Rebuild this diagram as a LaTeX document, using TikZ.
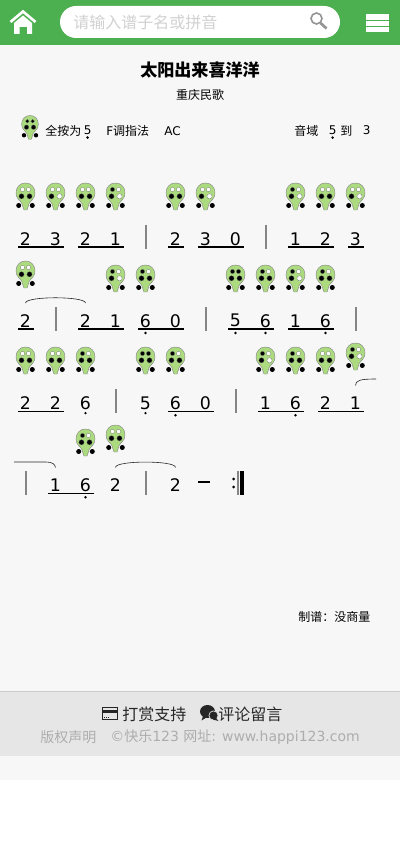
\documentclass[tikz,border=0pt]{standalone}
\usepackage{fontspec}
\setmainfont{DejaVu Sans}
\newfontfamily\cjk{Noto Sans CJK SC}
\usetikzlibrary{calc}

\definecolor{barGreen}{HTML}{4CAF50}
\definecolor{pageGray}{HTML}{F7F7F7}
\definecolor{footGray}{HTML}{E6E6E6}
\definecolor{bodyGreen}{HTML}{ABDB7E}
\colorlet{b}{black}
\colorlet{w}{white}

\tikzset{
	note/.style={inner sep=0pt,font=\fontsize{13}{13}\selectfont},
	beam/.style={line width=1pt,black},
	bar/.style={line width=1.5pt,black!48},
	tie/.style={line width=.45pt,black!85},
	low/.style={fill=black},
	info/.style={inner sep=0pt,anchor=west,font=\fontsize{9}{9}\selectfont},
	foot/.style={inner sep=0pt,anchor=west,text=black!32,font=\fontsize{10.5}{10.5}\selectfont},
	link/.style={inner sep=0pt,anchor=west,text=black!85,font=\cjk\fontsize{12}{12}\selectfont},
	pics/oca/.style n args={4}{code={
		\draw[fill=bodyGreen,draw=black!45,line width=.35pt] (0,0)
			.. controls (5.5,0) and (9.5,4) .. (9.5,10)
			.. controls (9.5,16) and (5,17.5) .. (3.6,20.5)
			.. controls (2.8,23) and (2.4,25) .. (1.5,27) -- (-1.5,27)
			.. controls (-2.4,25) and (-2.8,23) .. (-3.6,20.5)
			.. controls (-5,17.5) and (-9.5,16) .. (-9.5,10)
			.. controls (-9.5,4) and (-5.5,0) .. (0,0) -- cycle;
		\filldraw[fill=#1,draw=black!60,line width=.2pt] (-3,6.5) circle (2.1);
		\filldraw[fill=#2,draw=black!60,line width=.2pt] (3,6.5) circle (2.1);
		\filldraw[fill=#3,draw=black!60,line width=.2pt] (-4,13.3) circle (2.6);
		\filldraw[fill=#4,draw=black!60,line width=.2pt] (4,13.3) circle (2.6);
		\fill[black] (-6.8,22.5) circle (2.5) (6.8,22.5) circle (2.5);
	}},
}

% fingerings, one per tone
\newcommand{\octone}[3]{\csname oc#3\endcsname{#1}{#2}}
\expandafter\def\csname oc1\endcsname#1#2{\pic at (#1,#2) {oca={b}{w}{b}{w}};}
\expandafter\def\csname oc2\endcsname#1#2{\pic at (#1,#2) {oca={w}{w}{b}{b}};}
\expandafter\def\csname oc3\endcsname#1#2{\pic at (#1,#2) {oca={w}{w}{b}{w}};}
\expandafter\def\csname oc5\endcsname#1#2{\pic at (#1,#2) {oca={b}{b}{b}{b}};}
\expandafter\def\csname oc6\endcsname#1#2{\pic at (#1,#2) {oca={b}{w}{b}{b}};}
\newcommand{\beamed}[2]{\draw[beam] ([xshift=-5.6pt,yshift=-6.3pt]#1.center) -- ([xshift=6.4pt,yshift=-6.3pt]#2.center);}

\begin{document}
\begin{tikzpicture}[x=.75pt,y=-.75pt]
\useasboundingbox (0,0) rectangle (400,862);

% page
\fill[white] (0,0) rectangle (400,862);
\fill[pageGray] (0,45) rectangle (400,780);
\fill[barGreen] (0,0) rectangle (400,45);
\fill[footGray] (0,691) rectangle (400,756);
\draw[black!20,line width=.75pt] (0,691) -- (400,691);

% top bar
\draw[white,line width=2pt] (10.5,22) -- (23,11.5) -- (35.5,22);
\fill[white] (23,15.5) -- (32,23) -- (32,34) -- (27,34) -- (27,27) -- (19.5,27) -- (19.5,34) -- (14,34) -- (14,23) -- cycle;
\fill[white,rounded corners=12pt] (60,6) rectangle (340,38);
\node[inner sep=0pt,anchor=west,text=black!18,font=\cjk\fontsize{12}{12}\selectfont] (search) at (73,22) {请输入谱子名或拼音};
\draw[black!42,line width=1.2pt] (316.5,18.5) circle (5.5);
\draw[black!42,line width=2pt] (320.5,23) -- (326.5,28.5);
\foreach \hy/\hh in {14/6,21.5/4.5,27.5/4.5}
	\fill[white] (366,\hy) rectangle (389,\hy+\hh);

% titles
\node[inner sep=0pt,font=\cjk\bfseries\fontsize{12.8}{13}\selectfont] (title) at (200,70) {太阳出来喜洋洋};
\node[inner sep=0pt,font=\cjk\fontsize{9}{9}\selectfont] (singer) at (200,95) {重庆民歌};

% info row
\pic[scale=.88] at (30,115.5) {oca={b}{b}{b}{b}};
\node[info] (allheld) at (45,131) {\cjk 全按为};
\node[info] (alltone) at (83.5,130.5) {5};
\node[info] (key) at (106,131) {F\cjk 调指法};
\node[info] (kind) at (164,131) {AC};
\node[info] (range) at (294,131) {\cjk 音域};
\node[info] (rangelow) at (328.5,130.5) {5};
\node[info] (rangeto) at (340,131) {\cjk 到};
\node[info] (rangehigh) at (362.5,130.5) {3};
\foreach \nm in {alltone,rangelow}
	\fill[low] ([yshift=-5.3pt]\nm.center) circle (1.4);

% fingerings
\foreach \ox/\oy/\tone in {25.5/183/2,55.5/183/3,85.5/183/2,115.5/183/1,175.5/183/2,205.5/183/3,295.5/183/1,325.5/183/2,355.5/183/3,
	25.5/261/2,115.5/265/1,145.5/265/6,235.5/265/5,265.5/265/6,295.5/265/1,325.5/265/6,
	25.5/347/2,55.5/347/2,85.5/347/6,145.5/347/5,175.5/347/6,265.5/347/1,295.5/347/6,325.5/347/2,355.5/343/1,
	85.5/429/6,115.5/425/2}{
	\octone{\ox}{\oy}{\tone}
}

% notes
\foreach \nx/\tone/\nm in {25.5/2/a1,55.5/3/a2,85.5/2/a3,115.5/1/a4,175.5/2/a5,205.5/3/a6,235.5/0/a7,295.5/1/a8,325.5/2/a9,355.5/3/a10}
	\node[note] (\nm) at (\nx,238.7) {\tone};
\foreach \nx/\tone/\nm in {25.5/2/b1,85.5/2/b2,115.5/1/b3,145.5/6/b4,175.5/0/b5,235.5/5/b6,265.5/6/b7,295.5/1/b8,325.5/6/b9}
	\node[note] (\nm) at (\nx,320.7) {\tone};
\foreach \nx/\tone/\nm in {25.5/2/c1,55.5/2/c2,85.5/6/c3,145.5/5/c4,175.5/6/c5,205.5/0/c6,265.5/1/c7,295.5/6/c8,325.5/2/c9,355.5/1/c10}
	\node[note] (\nm) at (\nx,403) {\tone};
\foreach \nx/\tone/\nm in {55.5/1/d1,85.5/6/d2,115.5/2/d3,175.5/2/d4}
	\node[note] (\nm) at (\nx,485) {\tone};

% beams
\foreach \na/\nb in {a1/a2,a3/a4,a5/a5,a6/a7,a8/a9,a10/a10,b1/b1,b2/b3,b4/b5,b6/b7,b8/b9,c1/c2,c5/c6,c7/c8,c9/c10,d1/d2}{
	\beamed{\na}{\nb}
}

% low dots
\foreach \nm in {b4,b6,b7,b9,c5,c8,d2}
	\fill[low] ([yshift=-9.2pt]\nm.center) circle (1.3);
\foreach \nm in {c3,c4}
	\fill[low] ([yshift=-7.6pt]\nm.center) circle (1.3);

% bar lines
\foreach \bx/\by in {146/225,266/225,56/307,206/307,356/307,116/389,236/389,26/471,146/471}
	\draw[bar] (\bx,\by) -- (\bx,\by+24);
\fill[black] (233.5,479) circle (1.5) (233.5,487) circle (1.5);
\draw[bar] (238,471) -- (238,495);
\draw[black,line width=2.5pt] (242,471) -- (242,495);
\draw[black,line width=1.5pt] (198,481.7) -- (210,481.7);

% ties
\coordinate (tieout) at (376,379);
\coordinate (tiein) at (14,462);
\draw[tie] ([yshift=8.2pt]b1.north) .. controls ([yshift=13.5pt]b1.north) and ([yshift=13.5pt]b2.north) .. ([yshift=8.2pt]b2.north);
\draw[tie] ([yshift=8.2pt]d3.north) .. controls ([yshift=13.5pt]d3.north) and ([yshift=13.5pt]d4.north) .. ([yshift=8.2pt]d4.north);
\draw[tie] ([yshift=8.2pt]c10.north) .. controls ([yshift=12pt]c10.north) and (360,379) .. (tieout);
\draw[tie] (tiein) -- (46,462) .. controls (52,462) and (55,464) .. ([yshift=8.2pt]d1.north);

% credit
\node[info] (scorer) at (298,617) {\cjk 制谱：没商量};

% footer
\draw[black!85,line width=.75pt] (102.5,707.5) rectangle (117.5,719);
\fill[black!85] (102.5,709.5) rectangle (117.5,712.5);
\draw[black!85,line width=.6pt,dash pattern=on .75pt off .75pt] (104,717) -- (109,717);
\node[link] (reward) at (122,714.5) {打赏支持};
\fill[black!85] (207.5,711.5) ellipse (7.5 and 6.5);
\fill[black!85] (203,716) -- (201.5,720.5) -- (208,716.5) -- cycle;
\fill[black!85,draw=footGray,line width=.5pt] (213.5,715.5) circle (4.6);
\fill[black!85] (216,718) -- (218.5,721) -- (213,719.5) -- cycle;
\node[link] (comment) at (218,714.5) {评论留言};
\node[foot] (rights) at (40,737) {\cjk 版权声明};
\node[foot] (site) at (110,737) {©{\cjk 快乐}123 {\cjk 网址}: www.happi123.com};
\end{tikzpicture}
\end{document}
